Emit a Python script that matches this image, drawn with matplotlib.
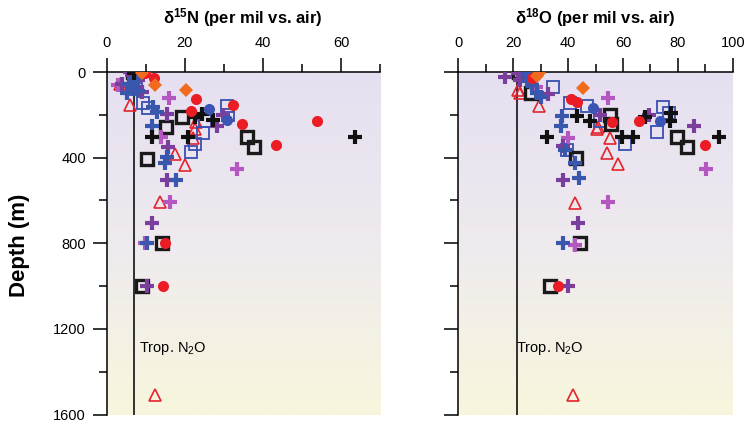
import numpy as np
import matplotlib
matplotlib.use('Agg')
from matplotlib import pyplot as plt
from matplotlib.colors import LinearSegmentedColormap

plt.rcParams['font.family'] = ['Liberation Sans', 'DejaVu Sans']

# depth (m) and delta values for each station/series, one pair per panel
red_dot_n = [(5, 9.8), (30, 12.1), (125, 23.0), (180, 21.6), (155, 32.4), (245, 34.6),
             (230, 53.8), (340, 43.4), (800, 14.9), (1000, 14.3)]
red_dot_o = [(30, 27.0), (125, 41.0), (140, 43.1), (230, 66.0), (340, 89.9), (235, 55.9),
             (1000, 36.4)]

orange_n = [(3, 9.0), (60, 12.4), (85, 20.3)]
orange_o = [(5, 29.3), (20, 28.5), (75, 45.3)]

blue_dot_n = [(175, 26.3), (225, 30.7)]
blue_dot_o = [(3, 24.7), (170, 49.2), (228, 73.5)]

blue_sq_n = [(80, 7.5), (145, 9.4), (170, 10.7), (230, 25.2), (285, 24.7), (335, 22.6),
             (375, 21.5), (160, 30.7), (200, 31.1)]
blue_sq_o = [(70, 34.6), (145, 40.7), (160, 46.8), (230, 51.6), (335, 60.7), (165, 74.5),
             (190, 76.9), (280, 72.5), (365, 39.5)]

black_sq_n = [(0, 6.8), (210, 19.2), (255, 15.2), (405, 10.4), (305, 35.9), (350, 37.6),
              (800, 14.1), (1000, 9.0)]
black_sq_o = [(0, 22.0), (0, 27.0), (100, 26.5), (200, 55.3), (245, 55.5), (305, 79.6),
              (350, 83.5), (400, 42.9), (800, 44.4), (1000, 33.4)]

black_pl_n = [(5, 6.9), (305, 11.5), (305, 20.9), (195, 24.3), (225, 27.3), (210, 22.5),
              (305, 63.6)]
black_pl_o = [(5, 28.0), (305, 32.4), (205, 43.1), (228, 48.0), (305, 59.5), (305, 63.8),
              (210, 68.0), (193, 77.4), (228, 77.2), (305, 95.1)]

blue_pl_n = [(100, 5.1), (69, 6.8), (55, 5.8), (30, 7.7), (90, 8.0), (162, 11.9), (186, 12.8),
             (250, 11.5), (395, 15.4), (425, 14.9), (505, 17.7), (800, 10.2)]
blue_pl_o = [(40, 25.5), (61, 26.7), (100, 28.6), (115, 30.0), (205, 37.7), (250, 37.4),
             (365, 38.9), (425, 42.5), (495, 44.1), (800, 38.3)]

purple_pl_n = [(0, 6.0), (15, 6.4), (37, 8.1), (55, 3.8), (92, 9.0), (195, 15.4), (350, 15.8),
               (505, 15.4), (250, 28.2), (200, 29.9), (705, 11.5), (1000, 10.2)]
purple_pl_o = [(22, 17.0), (6, 21.9), (37, 22.5), (105, 32.8), (345, 38.3), (505, 38.0),
               (201, 69.6), (253, 85.9), (201, 51.6), (705, 43.7), (1000, 40.1)]

magenta_pl_n = [(120, 16.0), (455, 33.3), (305, 13.8), (605, 16.2), (800, 9.8), (60, 3.0)]
magenta_pl_o = [(69, 28.3), (123, 54.7), (306, 40.1), (451, 90.3), (607, 54.7), (806, 42.5)]

red_tri_n = [(55, 3.4), (155, 6.0), (385, 17.5), (435, 20.0), (232, 22.8), (265, 22.6),
             (310, 22.2), (605, 13.7), (1510, 12.4)]
red_tri_o = [(84, 21.9), (100, 22.5), (159, 29.5), (264, 50.4), (256, 51.0), (306, 55.3),
             (380, 54.1), (430, 58.3), (611, 42.5), (1511, 41.7)]

trop_n, trop_o = 7.0, 21.5

styles = {
    'red_tri': dict(marker='^', ms=8, mfc='none', mec='#e3242b', mew=1.2),
    'blue_sq': dict(marker='s', ms=8, mfc='none', mec='#3a4fb0', mew=1.3),
    'black_sq': dict(marker='s', ms=8, mfc='none', mec='#1a1a1a', mew=2.4),
    'magenta_pl': dict(marker='+', ms=10, mec='#b457c0', mew=3.0),
    'purple_pl': dict(marker='+', ms=10, mec='#7a3e9d', mew=3.0),
    'blue_pl': dict(marker='+', ms=10, mec='#3957ad', mew=3.0),
    'black_pl': dict(marker='+', ms=10, mec='#111111', mew=3.0),
    'blue_dot': dict(marker='o', ms=8, mfc='#3a55b3', mec='#3a55b3', mew=0),
    'red_dot': dict(marker='o', ms=8, mfc='#ea1c24', mec='#ea1c24', mew=0),
    'orange': dict(marker='D', ms=7.5, mfc='#f06b1e', mec='#f06b1e', mew=0),
}

panels = [
    dict(series={'red_tri': red_tri_n, 'blue_sq': blue_sq_n, 'black_sq': black_sq_n,
                 'magenta_pl': magenta_pl_n, 'purple_pl': purple_pl_n, 'blue_pl': blue_pl_n,
                 'black_pl': black_pl_n, 'blue_dot': blue_dot_n, 'red_dot': red_dot_n,
                 'orange': orange_n},
         xmax=70, major=20, trop=trop_n, left=106.7, right=380,
         title=r'δ$\mathregular{^{15}}$N (per mil vs. air)'),
    dict(series={'red_tri': red_tri_o, 'blue_sq': blue_sq_o, 'black_sq': black_sq_o,
                 'magenta_pl': magenta_pl_o, 'purple_pl': purple_pl_o, 'blue_pl': blue_pl_o,
                 'black_pl': black_pl_o, 'blue_dot': blue_dot_o, 'red_dot': red_dot_o,
                 'orange': orange_o},
         xmax=100, major=20, trop=trop_o, left=458.3, right=732.7,
         title=r'δ$\mathregular{^{18}}$O (per mil vs. air)'),
]

W, H = 745, 425
fig = plt.figure(figsize=(W / 100, H / 100), dpi=100)
top_px, bot_px = 72, 414.5

bg = LinearSegmentedColormap.from_list('bg', ['#e6dff1', '#efeaee', '#f8f6dd'])
grad = np.linspace(0, 1, 256).reshape(-1, 1)

for i, p in enumerate(panels):
    ax = fig.add_axes([p['left'] / W, 1 - bot_px / H, (p['right'] - p['left']) / W,
                       (bot_px - top_px) / H])
    ax.imshow(grad, cmap=bg, aspect='auto', extent=[0, 1, 0, 1],
              transform=ax.transAxes, zorder=0)
    ax.set_xlim(0, p['xmax'])
    ax.set_ylim(1600, 0)

    ax.axvline(p['trop'], color='#111111', lw=1.2, zorder=1)
    ax.text(p['trop'] + 0.02 * p['xmax'] if i == 0 else p['trop'] - 0.003 * p['xmax'], 1290,
            r'Trop. N$\mathregular{_2}$O', fontsize=10.5, va='center', ha='left', zorder=5)

    for name, pts in p['series'].items():
        d = [q[0] for q in pts]
        v = [q[1] for q in pts]
        ax.plot(v, d, ls='none', zorder=3, **styles[name])

    for s in ['right', 'bottom']:
        ax.spines[s].set_visible(False)
    for s in ['left', 'top']:
        ax.spines[s].set_linewidth(1.1)

    ax.xaxis.tick_top()
    ax.set_xticks(np.arange(0, p['xmax'] + 1, p['major']))
    ax.set_xticks(np.arange(0, p['xmax'] + 1, 10), minor=True)
    ax.set_yticks(np.arange(0, 1601, 400))
    ax.set_yticks(np.arange(0, 1601, 200), minor=True)
    ax.tick_params(which='major', length=10, width=1.1, labelsize=10.5)
    ax.tick_params(which='minor', length=5.5, width=1.1)
    ax.tick_params(axis='x', pad=6)
    ax.tick_params(axis='y', pad=5)
    if i == 1:
        ax.set_yticklabels([])

    fig.text((p['left'] + p['right']) / 2 / W, 1 - 18 / H, p['title'],
             ha='center', va='center', fontsize=12, fontweight='bold')

fig.text(20 / W, 1 - 245 / H, 'Depth (m)', rotation=90, ha='center', va='center',
         fontsize=16, fontweight='bold')

fig.savefig('out.png', dpi=100)
